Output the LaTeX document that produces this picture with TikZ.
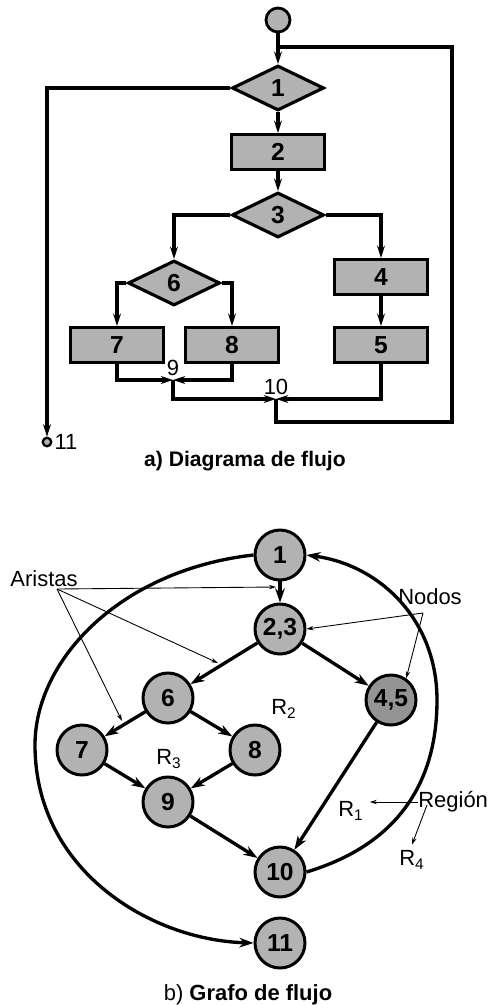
\documentclass[tikz,border=0pt]{standalone}
\usepackage{fontspec}
\setmainfont{Liberation Sans}
\usetikzlibrary{arrows.meta,shapes.geometric}
\begin{document}
\begin{tikzpicture}[x=0.02cm,y=-0.02cm,font=\fontsize{12.5}{14}\selectfont,
  box/.style={draw,line width=1.8pt,fill=black!30,minimum width=1.86cm,minimum height=0.7cm,inner sep=0,font=\fontsize{14}{16}\selectfont\bfseries},
  cond/.style={draw,line width=1.8pt,fill=black!30,diamond,aspect=2,minimum width=1.84cm,minimum height=0.9cm,inner sep=0,font=\fontsize{14}{16}\selectfont\bfseries},
  flow/.style={line width=1.8pt,-{Stealth[length=7pt,width=4.5pt]}},
  line/.style={line width=1.8pt},
  vertex/.style={circle,draw,line width=1.7pt,fill=black!30,minimum size=1cm,inner sep=0,font=\fontsize{14}{16}\selectfont\bfseries},
  edge/.style={line width=1.9pt,-{Stealth[length=8pt,width=5.5pt]}},
  note/.style={line width=0.5pt,-{Stealth[length=4pt,width=2.5pt]}}]
\useasboundingbox (0,0) rectangle (490,1005);
\node[circle,draw,line width=1.6pt,fill=black!30,minimum size=0.48cm,inner sep=0] (start) at (278,20) {};
\node[cond] (d1) at (278,88) {1};
\node[box] (r2) at (278,152) {2};
\node[cond] (d3) at (278,215) {3};
\node[cond] (d6) at (174,283) {6};
\node[box] (r4) at (381,277) {4};
\node[box] (r5) at (381,345) {5};
\node[box] (r7) at (117,345) {7};
\node[box] (r8) at (232,345) {8};
\node[circle,draw,line width=1.3pt,fill=black!30,minimum size=0.17cm,inner sep=0] (c11) at (47,442) {};
\node[anchor=west,inner sep=1pt] (l11) at (c11.east) {11};
\coordinate (j1) at (278,47);
\coordinate (j9) at (173,380);
\coordinate (j10) at (276,399);
\node[above=-1pt] (l9) at (j9) {9};
\node[above=-1pt] (l10) at (j10) {10};
\draw[flow] (start) -- (d1);
\draw[flow] (d1) -- (r2);
\draw[flow] (r2) -- (d3);
\draw[flow] (d1.west) -| (c11);
\draw[flow] (d3.west) -| (d6.north);
\draw[flow] (d3.east) -| (r4.north);
\draw[flow] (d6.west) -| (r7.north);
\draw[flow] (d6.east) -| (r8.north);
\draw[flow] (r4) -- (r5);
\draw[flow] (r7.south) |- (j9);
\draw[flow] (r8.south) |- (j9);
\draw[flow] (j9) |- (j10);
\draw[flow] (r5.south) |- (j10);
\draw[line] (j10) |- (452,422) |- (j1);
\node[font=\fontsize{12}{14}\selectfont\bfseries] (capa) at (245,461) {a) Diagrama de flujo};
\node[vertex] (n1) at (280,555) {1};
\node[vertex] (n23) at (280,629) {2,3};
\node[vertex] (n6) at (168,698) {6};
\node[vertex,fill=black!42] (n45) at (391,700) {4,5};
\node[vertex] (n7) at (82,750) {7};
\node[vertex] (n8) at (255,750) {8};
\node[vertex] (n9) at (168,802) {9};
\node[vertex] (n10) at (280,872) {10};
\node[vertex] (n11) at (280,943) {11};
\draw[edge] (n1) -- (n23);
\draw[edge] (n23) -- (n6);
\draw[edge] (n23) -- (n45);
\draw[edge] (n6) -- (n7);
\draw[edge] (n6) -- (n8);
\draw[edge] (n7) -- (n9);
\draw[edge] (n8) -- (n9);
\draw[edge] (n9) -- (n10);
\draw[edge] (n45) -- (n10);
\draw[edge] (n10.east) .. controls (380,850) and (437,800) .. (437,700) .. controls (437,620) and (380,565) .. (n1.east);
\draw[edge] (n1.west) .. controls (120,570) and (35,660) .. (35,745) .. controls (35,870) and (150,940) .. (n11.west);
\node (aristas) at (44,579) {Aristas};
\coordinate (aa) at (57,589);
\coordinate (ea) at (276,587);
\coordinate (eb) at (218,663);
\coordinate (ec) at (122,721);
\draw[note] (aa) -- (ea);
\draw[note] (aa) -- (eb);
\draw[note] (aa) -- (ec);
\node (nodos) at (430,597) {Nodos};
\coordinate (na) at (423,613);
\draw[note] (na) -- (n23.east);
\draw[note] (na) -- (n45.55);
\node (rg2) at (284,709) {R\textsubscript{2}};
\node (rg3) at (169,759) {R\textsubscript{3}};
\node (rg1) at (351,811) {R\textsubscript{1}};
\node (rg4) at (412,860) {R\textsubscript{4}};
\node[anchor=west,inner sep=0] (region) at (418,802) {Región};
\coordinate (gb) at (427,805);
\draw[note] (region.west) -- (region.west -| rg1.east);
\draw[note] (gb) -- (rg4.north);
\node (capb) at (248,995) {b) \textbf{Grafo de flujo}};
\end{tikzpicture}
\end{document}
